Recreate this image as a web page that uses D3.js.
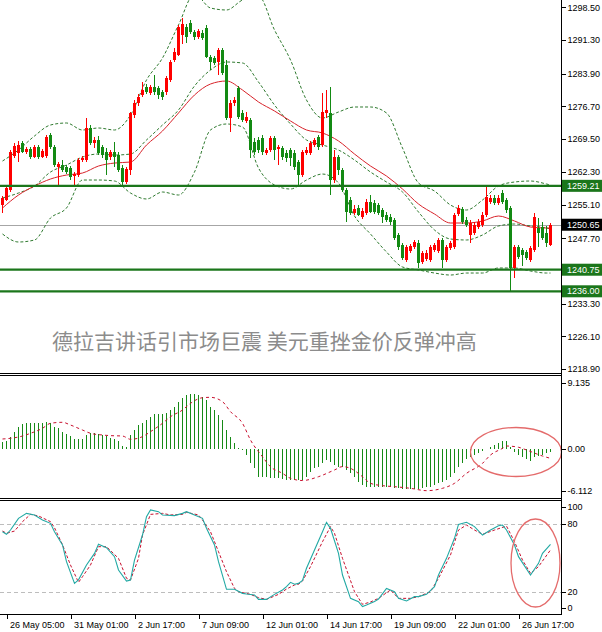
<!DOCTYPE html>
<html>
<head>
<meta charset="utf-8">
<script src="https://cdn.jsdelivr.net/npm/d3@7"></script>
<style>
  html, body { margin: 0; padding: 0; background: #ffffff; }
  svg { display: block; font-family: "Liberation Sans", Arial, sans-serif; }
</style>
</head>
<body>
<svg id="chart" width="602" height="632"></svg>
<script>
// ---------- XAUUSD H4 candles (bar 0 = oldest) ----------
const candleOpen = [
  1255.0,1256.1,1258.3,1265.8,1266.4,1268.6,1266.7,1267.3,1265.6,1267.8,
  1265.6,1265.8,1270.4,1267.8,1263.4,1263.8,1263.4,1263.1,1261.4,1261.6,
  1264.9,1264.9,1271.9,1268.6,1269.3,1267.8,1266.7,1265.6,1266.7,1266.0,
  1263.1,1260.1,1262.7,1274.8,1277.4,1279.2,1281.0,1279.6,1281.0,1280.7,
  1279.9,1279.9,1282.5,1286.9,1288.0,1292.4,1294.2,1295.0,1293.1,1292.0,
  1292.8,1294.0,1287.6,1287.3,1286.5,1289.1,1285.8,1274.1,1277.4,1280.7,
  1275.2,1273.5,1273.7,1268.9,1269.3,1269.7,1266.4,1267.1,1269.7,1267.3,
  1267.5,1266.4,1267.1,1266.4,1264.5,1261.6,1266.4,1266.4,1268.2,1270.0,
  1268.2,1275.2,1275.2,1260.5,1265.6,1262.7,1258.3,1256.1,1253.2,1254.3,
  1252.4,1253.2,1255.6,1255.4,1255.0,1253.9,1252.8,1252.4,1251.7,1248.4,
  1246.2,1242.9,1244.9,1245.7,1246.6,1242.5,1243.1,1242.9,1245.1,1244.9,
  1247.3,1242.9,1245.5,1245.7,1253.0,1254.1,1251.7,1248.4,1248.8,1250.2,
  1250.6,1252.8,1255.6,1256.5,1255.4,1257.6,1256.1,1254.3,1241.1,1245.7,
  1245.1,1244.6,1242.9,1245.1,1249.9,1250.2,1248.8,1246.2
];
const candleHigh = [
  1257.0,1259.2,1267.1,1268.6,1269.1,1269.1,1267.8,1267.8,1268.2,1268.2,
  1267.3,1270.4,1270.8,1268.2,1264.5,1264.9,1263.8,1263.6,1262.3,1265.3,
  1265.8,1274.1,1272.6,1270.0,1270.2,1268.2,1267.5,1267.1,1268.9,1266.7,
  1263.8,1263.4,1275.5,1278.1,1279.4,1282.1,1281.6,1281.4,1283.6,1281.2,
  1280.3,1283.4,1286.9,1289.5,1294.6,1296.1,1294.8,1295.7,1293.5,1293.7,
  1293.5,1294.6,1288.0,1287.8,1289.5,1289.5,1286.9,1278.1,1278.8,1281.2,
  1275.9,1275.5,1274.1,1269.7,1270.0,1270.4,1267.5,1270.2,1270.2,1268.2,
  1268.0,1267.1,1267.5,1267.1,1264.9,1267.1,1267.8,1269.1,1269.7,1270.4,
  1279.6,1280.3,1281.0,1267.1,1266.0,1263.1,1258.7,1256.8,1255.0,1255.0,
  1254.3,1256.3,1257.2,1256.1,1255.4,1254.3,1253.4,1253.0,1252.1,1248.8,
  1246.6,1246.2,1246.4,1247.3,1247.3,1244.9,1245.1,1246.2,1246.6,1247.7,
  1247.7,1246.2,1247.1,1253.2,1255.0,1254.5,1252.4,1251.7,1251.3,1251.9,
  1253.4,1259.2,1257.2,1257.2,1257.2,1258.3,1256.5,1254.8,1246.2,1246.2,
  1245.5,1245.1,1246.0,1253.2,1252.1,1251.3,1250.4,1251.0
];
const candleLow = [
  1253.2,1255.9,1257.9,1265.3,1264.5,1266.4,1266.2,1265.1,1265.3,1265.1,
  1265.3,1265.3,1267.3,1263.4,1259.4,1262.3,1261.8,1260.5,1259.4,1261.2,
  1264.5,1264.5,1268.2,1267.5,1266.0,1265.3,1261.6,1264.9,1263.4,1262.3,
  1259.0,1259.6,1261.6,1274.1,1276.8,1278.8,1279.4,1279.2,1279.2,1278.3,
  1278.1,1279.2,1282.1,1286.5,1287.8,1290.4,1290.6,1292.6,1291.3,1291.5,
  1291.3,1287.3,1284.7,1285.8,1283.6,1283.6,1273.7,1271.1,1276.8,1273.9,
  1273.3,1273.0,1265.3,1266.0,1266.4,1266.0,1266.0,1266.7,1264.9,1263.8,
  1264.9,1264.5,1263.6,1262.7,1259.4,1261.2,1266.0,1266.0,1267.8,1267.1,
  1267.8,1274.1,1257.2,1259.8,1261.6,1257.9,1251.3,1252.8,1252.8,1252.6,
  1251.9,1252.8,1253.2,1253.0,1252.8,1251.0,1251.3,1250.6,1247.3,1245.1,
  1242.9,1242.5,1244.4,1245.3,1241.1,1242.0,1242.7,1242.5,1244.7,1244.4,
  1241.1,1242.5,1245.1,1245.3,1252.6,1250.8,1250.2,1246.6,1248.4,1249.7,
  1250.2,1252.4,1255.2,1255.0,1255.0,1255.2,1253.2,1236.0,1238.9,1243.1,
  1241.6,1242.9,1242.5,1244.6,1245.7,1247.3,1245.7,1245.9
];
const candleClose = [
  1256.5,1258.7,1266.7,1268.0,1268.2,1266.7,1267.3,1265.6,1267.8,1265.6,
  1266.9,1270.0,1267.8,1263.8,1264.0,1262.7,1262.3,1261.2,1261.8,1264.9,
  1265.3,1271.9,1268.6,1269.3,1266.4,1266.0,1264.9,1266.7,1265.6,1262.7,
  1260.1,1262.9,1275.2,1277.4,1278.8,1280.3,1279.9,1281.0,1279.9,1279.2,
  1278.8,1282.9,1286.5,1288.7,1294.2,1294.8,1292.0,1293.1,1292.0,1293.3,
  1291.7,1287.6,1286.5,1286.2,1289.1,1284.0,1274.1,1277.4,1278.1,1274.4,
  1273.7,1274.4,1267.1,1266.7,1267.1,1266.7,1267.1,1269.7,1267.1,1267.8,
  1265.6,1265.3,1265.3,1263.4,1261.6,1266.7,1267.1,1268.6,1269.3,1267.8,
  1275.5,1275.9,1260.5,1265.6,1262.7,1258.3,1253.4,1253.2,1254.1,1252.8,
  1253.7,1255.6,1253.4,1253.4,1253.2,1252.4,1251.7,1251.3,1247.7,1245.7,
  1243.3,1245.7,1246.0,1246.8,1242.2,1244.4,1244.4,1245.7,1246.2,1247.3,
  1242.9,1245.7,1246.6,1252.8,1254.3,1251.3,1250.6,1251.0,1250.6,1251.3,
  1252.8,1256.7,1256.5,1255.4,1256.5,1255.6,1253.9,1241.1,1245.7,1243.5,
  1244.0,1243.3,1245.5,1252.3,1248.8,1247.7,1246.6,1250.65
];

// ---------- Bollinger bands and moving average, sampled at these bars ----------
const bandBars = [0,4,8,12,16,20,24,28,32,36,40,44,48,52,56,60,64,68,72,76,80,84,88,92,96,100,104,108,112,116,120,124,128,132,136,137];
const bbUpper = [1264.67,1267.10,1270.18,1272.60,1273.04,1271.50,1271.94,1271.50,1274.80,1282.50,1287.34,1294.61,1301.43,1298.35,1297.91,1300.11,1300.99,1293.51,1286.90,1278.10,1274.14,1275.46,1276.56,1276.56,1275.24,1267.53,1259.83,1258.07,1254.99,1253.89,1256.09,1259.17,1260.05,1260.27,1259.61,1259.39];
const bbMiddle = [1256.53,1257.63,1259.17,1262.25,1263.79,1265.55,1266.21,1265.99,1266.21,1269.30,1272.60,1275.90,1281.18,1284.70,1286.46,1286.24,1282.06,1277.00,1272.82,1269.30,1268.19,1267.09,1264.89,1262.25,1260.05,1257.85,1253.45,1249.49,1247.51,1247.29,1248.39,1250.37,1250.81,1250.37,1249.93,1249.71];
const bbLower = [1248.61,1246.85,1247.29,1252.13,1254.33,1260.49,1260.49,1260.27,1257.63,1256.31,1257.85,1257.19,1262.25,1271.50,1272.82,1272.16,1263.13,1259.39,1258.51,1260.49,1261.81,1259.83,1252.57,1248.61,1244.65,1241.35,1240.69,1240.02,1239.58,1240.02,1240.02,1241.13,1241.13,1240.46,1240.02,1240.02];
const maRed = [1254.33,1257.19,1259.17,1260.71,1261.59,1262.03,1263.57,1264.23,1264.45,1268.19,1271.28,1275.24,1279.20,1281.62,1282.28,1280.30,1277.66,1275.68,1273.48,1271.50,1270.84,1269.08,1266.21,1263.57,1261.37,1258.51,1255.21,1253.01,1251.03,1251.03,1251.47,1252.57,1251.47,1250.15,1249.93,1249.93];

// ---------- horizontal levels ----------
const levelValues = [1259.21, 1240.75, 1236.00];
const levelLabels = ["1259.21", "1240.75", "1236.00"];
const lastPrice = 1250.65;
const lastPriceLabel = "1250.65";

// ---------- MACD ----------
const macdHist = [
  0.98,1.11,1.62,2.26,2.81,3.24,3.41,3.41,3.41,3.41,
  3.33,3.54,3.33,2.90,2.69,2.26,1.96,1.70,1.32,1.32,
  1.32,1.83,2.05,2.13,1.96,1.83,1.75,1.49,1.32,1.06,
  0.42,0.34,1.83,2.47,3.11,3.33,3.75,4.18,4.48,4.48,
  4.48,4.69,5.03,5.46,6.10,6.53,6.96,7.08,7.04,6.96,
  6.74,6.32,5.46,5.03,4.39,3.75,2.47,1.62,0.76,0.12,
  -0.09,-0.73,-1.80,-2.44,-3.51,-3.59,-3.59,-3.72,-3.72,-3.72,
  -3.85,-3.93,-3.93,-3.93,-3.93,-3.93,-3.51,-2.87,-2.44,-2.22,
  -1.80,-1.37,-1.58,-2.01,-2.22,-2.31,-2.65,-3.08,-3.59,-4.14,
  -4.57,-4.79,-4.79,-4.79,-4.79,-4.87,-4.87,-4.87,-5.00,-5.00,
  -5.08,-5.08,-5.08,-5.08,-5.08,-5.00,-4.87,-4.79,-4.57,-4.36,
  -4.14,-3.93,-3.51,-3.08,-2.22,-1.80,-1.28,-1.03,-0.73,-0.43,
  -0.20,0.10,0.26,0.55,0.85,1.11,1.05,0.30,-0.30,-0.70,
  -1.00,-1.30,-1.46,-1.03,-0.86,-0.73,-0.52,-0.30
];
const signalBars = [0,2,5,7,10,12,15,17,20,22,25,27,30,32,35,37,40,42,45,47,50,52,55,57,60,62,65,67,70,72,75,79,83,85,87,90,92,95,98,102,106,110,113,116,120,122,125,126,129,131,135,137];
const signalValues = [1.32,1.41,1.70,2.05,2.69,3.33,3.46,3.11,2.47,2.05,1.83,1.75,1.70,1.28,1.62,2.26,3.33,4.18,5.03,5.89,6.61,6.66,6.10,4.82,3.33,1.19,-0.95,-2.23,-3.08,-3.72,-4.00,-3.51,-2.65,-2.22,-2.44,-3.51,-4.36,-4.66,-4.79,-5.00,-5.30,-5.00,-4.36,-3.08,-1.80,-0.73,0.12,0.42,0.26,-0.09,-0.86,-1.16];
const macdTicks = [9.135, 0, -6.112];
const macdTickLabels = ["9.135", "0.00", "-6.112"];

// ---------- Stochastic ----------
const kBars = [0,1,2,4,6,8,10,12,13,15,16,18,19,21,23,24,26,28,29,31,32,33,35,36,37,39,40,43,45,46,48,50,51,53,54,56,58,60,61,63,64,66,68,70,71,72,73,74,75,76,78,80,81,82,84,85,87,89,90,91,93,94,96,98,99,101,103,104,106,108,109,111,113,114,116,118,120,122,124,125,126,128,129,132,134,135,137];
const kValues = [73.5,71.2,75.0,85.3,89.7,88.3,83.8,80.9,73.5,61.8,47.1,27.9,31.0,44.1,54.4,62.4,59.4,51.5,39.7,30.0,30.9,48.5,70.6,86.8,92.7,91.2,88.3,87.7,89.7,91.2,88.3,85.3,76.5,61.8,47.1,22.7,22.7,19.1,18.5,17.7,13.8,13.8,18.2,22.1,25.0,28.8,27.1,27.9,30.5,41.2,57.4,73.5,81.8,76.5,54.4,35.3,14.7,11.8,7.4,8.8,11.8,14.1,23.5,20.6,14.7,12.4,16.2,16.2,18.2,25.0,35.3,50.0,67.7,80.0,81.8,78.0,70.6,75.0,78.8,79.4,75.0,61.8,51.5,35.3,45.6,54.4,62.4];
const dBars = [0,1,3,5,7,9,12,13,15,17,19,20,22,24,26,29,31,32,34,35,37,40,42,45,46,49,50,52,54,56,58,59,62,64,66,69,71,73,74,75,77,80,82,83,85,88,90,92,94,97,99,102,104,107,109,112,114,116,118,120,123,126,128,130,132,134,137];
const dValues = [74.1,72.1,74.1,82.4,88.8,87.4,82.4,77.0,62.0,44.1,28.8,33.8,44.1,60.3,60.3,50.0,32.4,30.9,50.0,70.6,88.8,89.7,88.3,88.8,90.6,88.3,83.8,73.5,55.9,38.2,23.5,20.6,18.2,15.3,13.8,18.2,22.9,26.5,27.1,30.0,42.7,64.7,78.0,72.1,50.0,20.6,9.4,11.5,14.7,22.1,14.7,14.7,16.2,20.6,32.4,53.0,75.0,79.4,75.0,71.2,75.0,78.5,64.7,48.5,36.8,42.7,57.4];
const stochTicks = [100, 80, 20, 0];
const stochLevels = [80, 20];

// ---------- axes text ----------
const priceTicks = [1298.5, 1291.3, 1283.9, 1276.7, 1269.5, 1262.3, 1255.1, 1247.7, 1233.3, 1226.1, 1218.9];
const priceTickLabels = ["1298.50","1291.30","1283.90","1276.70","1269.50","1262.30","1255.10","1247.70","1233.30","1226.10","1218.90"];
const timeBars = [1, 17, 33, 49, 65, 81, 97, 113, 129];
const timeLabels = ["26 May 05:00","31 May 01:00","2 Jun 17:00","7 Jun 09:00","12 Jun 01:00","14 Jun 17:00","19 Jun 09:00","22 Jun 01:00","26 Jun 17:00"];
const headline = "德拉吉讲话引市场巨震 美元重挫金价反弹冲高";

// ---------- layout ----------
const PLOT_R = 561;
const MAIN_B = 373;
const MACD_T = 376, MACD_B = 498;
const STO_T = 501, STO_B = 614;

const svg = d3.select("#chart");
const fontAxis = "9px";

const x = d3.scaleLinear().domain([0, 137]).range([2.5, 550.5]);
const yP = d3.scaleLinear().domain([1218.9, 1298.5]).range([369, 7.3]);
const yM = d3.scaleLinear().domain([-6.112, 9.135]).range([497, 378]);
const yS = d3.scaleLinear().domain([0, 100]).range([615, 501.7]);

const defs = svg.append("defs");
defs.append("clipPath").attr("id", "clipMain").append("rect")
  .attr("x", 0).attr("y", 0).attr("width", PLOT_R).attr("height", MAIN_B);
defs.append("clipPath").attr("id", "clipMacd").append("rect")
  .attr("x", 0).attr("y", MACD_T).attr("width", PLOT_R).attr("height", MACD_B - MACD_T);
defs.append("clipPath").attr("id", "clipSto").append("rect")
  .attr("x", 0).attr("y", STO_T).attr("width", PLOT_R).attr("height", STO_B - STO_T);

// ---------- main price panel ----------
const main = svg.append("g").attr("clip-path", "url(#clipMain)");

main.append("line")
  .attr("x1", 0).attr("x2", PLOT_R)
  .attr("y1", Math.round(yP(lastPrice)) + 0.5).attr("y2", Math.round(yP(lastPrice)) + 0.5)
  .attr("stroke", "#a6a6a6").attr("stroke-width", 1);

const bandLine = d3.line()
  .x((d, k) => x(bandBars[k]))
  .y(d => yP(d))
  .curve(d3.curveMonotoneX);

[bbUpper, bbMiddle, bbLower].forEach(series => {
  main.append("path")
    .attr("d", bandLine(series))
    .attr("fill", "none")
    .attr("stroke", "#2f7a2f")
    .attr("stroke-width", 1)
    .attr("stroke-dasharray", "3,2");
});

main.append("path")
  .attr("d", bandLine(maRed))
  .attr("fill", "none")
  .attr("stroke", "#d8232a")
  .attr("stroke-width", 1);

const bars = d3.range(candleOpen.length);
const upCol = "#ff0000", downCol = "#138a13";
const candle = main.append("g").selectAll("g").data(bars).join("g");
candle.append("line")
  .attr("x1", i => x(i)).attr("x2", i => x(i))
  .attr("y1", i => yP(candleHigh[i])).attr("y2", i => yP(candleLow[i]))
  .attr("stroke", i => candleClose[i] >= candleOpen[i] ? upCol : downCol)
  .attr("stroke-width", 1)
  .attr("shape-rendering", "crispEdges");
candle.append("rect")
  .attr("x", i => x(i) - 1.5)
  .attr("width", 3)
  .attr("y", i => yP(Math.max(candleOpen[i], candleClose[i])))
  .attr("height", i => Math.max(1, Math.abs(yP(candleOpen[i]) - yP(candleClose[i]))))
  .attr("fill", i => candleClose[i] >= candleOpen[i] ? upCol : downCol)
  .attr("shape-rendering", "crispEdges");

levelValues.forEach(v => {
  const yy = yP(v);
  main.append("line")
    .attr("x1", 0).attr("x2", PLOT_R)
    .attr("y1", yy).attr("y2", yy)
    .attr("stroke", "#1b761b").attr("stroke-width", 2.2);
});

// headline
svg.append("text")
  .attr("x", 52).attr("y", 349)
  .attr("font-family", "'Noto Sans CJK SC', sans-serif")
  .attr("font-size", "21px")
  .attr("fill", "#8c8c8c")
  .text(headline);

// ---------- MACD panel ----------
const macdG = svg.append("g").attr("clip-path", "url(#clipMacd)");
macdG.append("g").selectAll("line").data(bars).join("line")
  .attr("x1", i => x(i)).attr("x2", i => x(i))
  .attr("y1", yM(0)).attr("y2", i => yM(macdHist[i]))
  .attr("stroke", "#168a16").attr("stroke-width", 1)
  .attr("shape-rendering", "crispEdges");

const sigLine = d3.line()
  .x((d, k) => x(signalBars[k]))
  .y(d => yM(d))
  .curve(d3.curveMonotoneX);
macdG.append("path")
  .attr("d", sigLine(signalValues))
  .attr("fill", "none")
  .attr("stroke", "#c8102e")
  .attr("stroke-width", 1)
  .attr("stroke-dasharray", "3,3");

svg.append("ellipse")
  .attr("cx", 516).attr("cy", 452).attr("rx", 45.5).attr("ry", 24.5)
  .attr("fill", "none").attr("stroke", "#e46b6b").attr("stroke-width", 1.3);

// ---------- Stochastic panel ----------
const stoG = svg.append("g").attr("clip-path", "url(#clipSto)");
stochLevels.forEach(v => {
  stoG.append("line")
    .attr("x1", 0).attr("x2", PLOT_R)
    .attr("y1", Math.round(yS(v)) + 0.5).attr("y2", Math.round(yS(v)) + 0.5)
    .attr("stroke", "#bdbdbd").attr("stroke-width", 1)
    .attr("stroke-dasharray", "4,3");
});
const kLine = d3.line().x((d, k) => x(kBars[k])).y(d => yS(d));
const dLine = d3.line().x((d, k) => x(dBars[k])).y(d => yS(d));
stoG.append("path")
  .attr("d", dLine(dValues))
  .attr("fill", "none").attr("stroke", "#c8102e")
  .attr("stroke-width", 1).attr("stroke-dasharray", "3,2");
stoG.append("path")
  .attr("d", kLine(kValues))
  .attr("fill", "none").attr("stroke", "#22a9a4")
  .attr("stroke-width", 1.1);

svg.append("ellipse")
  .attr("cx", 535.5).attr("cy", 563).attr("rx", 24.5).attr("ry", 44)
  .attr("fill", "none").attr("stroke", "#e46b6b").attr("stroke-width", 1.3);

// ---------- frames ----------
const frame = svg.append("g").attr("stroke", "#000").attr("stroke-width", 1)
  .attr("shape-rendering", "crispEdges");
[MAIN_B + 0.5, MACD_T - 0.5, MACD_B + 0.5, STO_T - 0.5, STO_B + 0.5].forEach(yy => {
  frame.append("line").attr("x1", 0).attr("x2", PLOT_R + 0.5).attr("y1", yy).attr("y2", yy);
});
frame.append("line").attr("x1", PLOT_R + 0.5).attr("x2", PLOT_R + 0.5).attr("y1", 0).attr("y2", STO_B + 0.5);

// ---------- axes ----------
function styleAxis(g) {
  g.select(".domain").remove();
  g.selectAll("text").attr("font-family", "'Liberation Sans', Arial, sans-serif")
    .attr("font-size", fontAxis).attr("fill", "#000");
  g.selectAll("line").attr("stroke", "#000").attr("shape-rendering", "crispEdges");
}

svg.append("g")
  .attr("transform", `translate(${PLOT_R + 0.5},0)`)
  .call(d3.axisRight(yP).tickValues(priceTicks)
    .tickFormat((d, k) => priceTickLabels[k]).tickSize(4).tickPadding(2))
  .call(styleAxis);

const macdAxis = svg.append("g")
  .attr("transform", `translate(${PLOT_R + 0.5},0)`)
  .call(d3.axisRight(yM).tickValues(macdTicks)
    .tickFormat((d, k) => macdTickLabels[k]).tickSize(4).tickPadding(2))
  .call(styleAxis);
macdAxis.selectAll(".tick").attr("transform", d => {
  const yy = d === 9.135 ? yM(d) + 5 : d === -6.112 ? yM(d) - 6 : yM(d);
  return `translate(0,${yy})`;
});

const stoAxis = svg.append("g")
  .attr("transform", `translate(${PLOT_R + 0.5},0)`)
  .call(d3.axisRight(yS).tickValues(stochTicks).tickSize(4).tickPadding(2))
  .call(styleAxis);
stoAxis.selectAll(".tick").attr("transform", d => {
  const yy = d === 100 ? yS(d) + 5.5 : d === 0 ? yS(d) - 7 : yS(d);
  return `translate(0,${yy})`;
});

const timeAxis = svg.append("g")
  .attr("transform", `translate(0,${STO_B + 0.5})`)
  .call(d3.axisBottom(x).tickValues(timeBars)
    .tickFormat((d, k) => timeLabels[k]).tickSize(4).tickPadding(3))
  .call(styleAxis);
timeAxis.selectAll("text").attr("text-anchor", "start").attr("dx", "3px");

// level tags on the price scale
levelValues.forEach((v, k) => {
  const yy = yP(v);
  svg.append("rect").attr("x", PLOT_R + 1).attr("y", yy - 6).attr("width", 40).attr("height", 12)
    .attr("fill", "#1b761b");
  svg.append("text").attr("x", PLOT_R + 6).attr("y", yy).attr("dy", "0.35em")
    .attr("font-size", fontAxis).attr("fill", "#fff").text(levelLabels[k]);
});
{
  const yy = yP(lastPrice);
  svg.append("rect").attr("x", PLOT_R + 1).attr("y", yy - 6).attr("width", 40).attr("height", 12)
    .attr("fill", "#000");
  svg.append("text").attr("x", PLOT_R + 6).attr("y", yy).attr("dy", "0.35em")
    .attr("font-size", fontAxis).attr("fill", "#fff").text(lastPriceLabel);
}
</script>
</body>
</html>
